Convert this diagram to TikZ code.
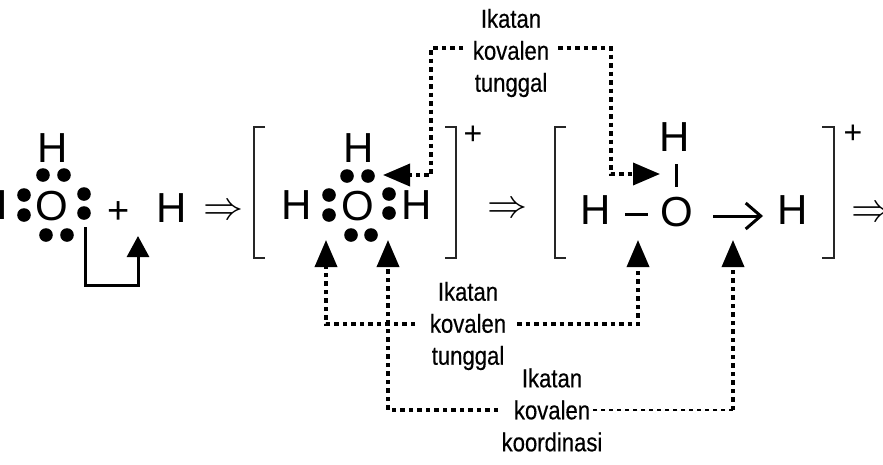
\documentclass[tikz,border=0pt]{standalone}
\usepackage{fontspec}
\setmainfont{Liberation Sans}
\newfontfamily\narrowlabel[FakeStretch=0.85,FakeBold=0.4]{Liberation Sans}
\usetikzlibrary{arrows.meta}
\tikzset{
  atom/.style={inner sep=0pt,font=\fontsize{42}{42}\selectfont},
  plussign/.style={inner sep=0pt,font=\fontsize{38}{38}\selectfont},
  smallplus/.style={inner sep=0pt,font=\fontsize{32}{32}\selectfont},
  implies/.style={inner sep=0pt},
  lbl/.style={inner sep=0pt,align=center,font=\narrowlabel\fontsize{26}{32}\selectfont},
  elec/.style={black},
  brk/.style={line width=1.8pt,draw=black!85},
  bond/.style={line width=3pt,black},
  link/.style={line width=3.6pt,dash pattern=on 4.5pt off 4pt,black},
  linkthin/.style={line width=2.4pt,dash pattern=on 4pt off 4pt,black},
  head/.style={-{Triangle[length=27pt,width=22pt]}},
  solidarrow/.style={line width=3pt,black,-{Triangle[length=21pt,width=22pt]}}
}
\newcommand{\bigimp}{\scalebox{4}{$\Rightarrow$}}
\begin{document}
\begin{tikzpicture}[x=1pt,y=-1pt]
\useasboundingbox (0,0) rectangle (883,464);
\clip (0,0) rectangle (883,464);
% left structure
\node[atom] (h1t) at (53,148) {H};
\node[atom] (o1) at (52,206) {O};
\node[atom] (h1l) at (-7,205) {H};
\foreach \p in {(43,175),(64,175),(24,195),(24,215),(84,194),(84,213),(46,235),(67,235)}
  \fill[elec] \p circle (6.8);
\node[plussign] (p1) at (119,213) {+};
\node[atom] (h1r) at (172,208) {H};
\node[implies] (imp1) at (223,212) {\bigimp};
\coordinate (s1) at (85,227);
\coordinate (s1b) at (85,285);
\coordinate (s1c) at (138,285);
\coordinate (s1e) at (138,236);
\draw[solidarrow] (s1) -- (s1b) -- (s1c) -- (s1e);
% bracket 1
\draw[brk] (265,127) -- (254,127) -- (254,258) -- (265,258);
\draw[brk] (445,127) -- (456,127) -- (456,258) -- (445,258);
\node[smallplus] (p2) at (473,135) {+};
\node[atom] (h2t) at (358.5,148) {H};
\node[atom] (o2) at (358,206) {O};
\node[atom] (h2l) at (297,205) {H};
\node[atom] (h2r) at (417,205) {H};
\foreach \p in {(347,176),(368,176),(329,195),(329,215),(389,194),(389,213),(351,235),(371,235)}
  \fill[elec] \p circle (6.8);
\node[implies] (imp2) at (507,210) {\bigimp};
% bracket 2
\draw[brk] (566,127) -- (555,127) -- (555,258) -- (566,258);
\draw[brk] (822,127) -- (834,127) -- (834,258) -- (822,258);
\node[smallplus] (p3) at (853,134) {+};
\node[atom] (h3t) at (675,137) {H};
\node[atom] (o3) at (677,212) {O};
\node[atom] (h3l) at (596,210) {H};
\node[atom] (h3r) at (793,210) {H};
\node[implies] (imp3) at (871,214) {\bigimp};
\coordinate (b1) at (676,164);
\coordinate (b2) at (676,187);
\draw[bond] (b1) -- (b2);
\coordinate (b3) at (625,214);
\coordinate (b4) at (648,214);
\draw[bond] (b3) -- (b4);
\coordinate (b5) at (713,216);
\coordinate (b6) at (763,216);
\draw[line width=3pt,-{Straight Barb[length=15pt,width=26pt,line width=3pt]}] (b5) -- (b6);
% labels
\node[lbl] (top) at (511,53) {Ikatan\\kovalen\\tunggal};
\node[lbl] (low1) at (468,326) {Ikatan\\kovalen\\tunggal};
\node[lbl] (low2) at (552,410) {Ikatan\\kovalen\\koordinasi};
% connectors
\coordinate (t1s) at (463,48);
\coordinate (t1a) at (431,48);
\coordinate (t1b) at (431,175);
\coordinate (t1e) at (383,175);
\draw[link,head] (t1s) -- (t1a) -- (t1b) -- (t1e);
\coordinate (t2s) at (558,48);
\coordinate (t2a) at (611,48);
\coordinate (t2b) at (611,174);
\coordinate (t2e) at (660,174);
\draw[link,head] (t2s) -- (t2a) -- (t2b) -- (t2e);
\coordinate (l1s) at (415,324);
\coordinate (l1a) at (326,324);
\coordinate (l1e) at (326,240);
\draw[link,head] (l1s) -- (l1a) -- (l1e);
\coordinate (l2s) at (517,324);
\coordinate (l2a) at (638,324);
\coordinate (l2e) at (638,240);
\draw[link,head] (l2s) -- (l2a) -- (l2e);
\coordinate (k1s) at (498,410);
\coordinate (k1a) at (388,410);
\coordinate (k1e) at (388,240);
\draw[link,head] (k1s) -- (k1a) -- (k1e);
\coordinate (k2s) at (593,410);
\coordinate (k2a) at (733,410);
\coordinate (k2e) at (733,240);
\draw[linkthin] (k2s) -- (k2a);
\draw[link,head] (k2a) -- (k2e);
\end{tikzpicture}
\end{document}
